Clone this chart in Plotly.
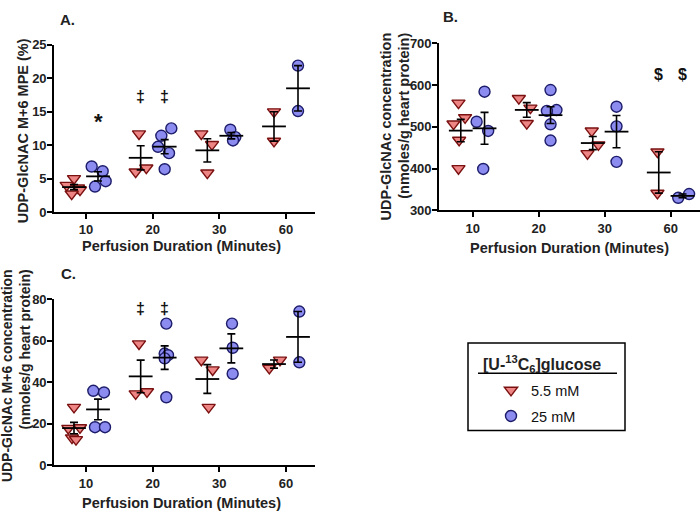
import numpy as np
import plotly.graph_objects as go

# ---------------- data ----------------
times = ["10", "20", "30", "60"]
series_names = ["5.5 mM", "25 mM"]

# Panel A: UDP-GlcNAc M+6 MPE (%)
A_low = [[5.0, 4.0, 3.6, 3.3, 2.7], [11.7, 6.0, 6.6], [11.7, 10.1, 5.85], [15.0, 10.6]]
A_high = [[6.8, 6.1, 4.6, 3.8], [12.5, 11.4, 9.75, 8.8, 6.4], [12.3, 11.2, 10.7], [21.9, 15.1]]
# Panel B: UDP-GlcNAc concentration
B_low = [[557, 522, 507, 468, 400], [568, 545, 508], [490, 457, 436], [440, 341]]
B_high = [[584, 512, 490, 399], [588, 540, 538, 506, 467], [548, 501, 416], [330, 339]]
# Panel C: UDP-GlcNAc M+6 concentration
C_low = [[28, 18.2, 17.9, 13.3, 12.5], [58.5, 35.5, 34.5], [50.7, 46, 28], [46.8, 50.7]]
C_high = [[35.9, 35.1, 18.4, 18.4], [68.2, 53.8, 53, 51.5, 32.8], [68.2, 56.6, 44.1], [74, 49.6]]

# horizontal scatter (jitter) of the dots within each group, in category units
A_low_jit = [[0.0, -0.11, 0.06, 0.09, -0.035], [-0.025, -0.075, 0.085], [-0.09, 0.07, 0.0], [0.0, 0.0]]
A_high_jit = [[-0.095, 0.07, 0.115, -0.045], [0.1, -0.05, -0.1, 0.065, 0.0], [-0.015, 0.06, 0.025], [0.0, 0.0]]
B_low_jit = [[-0.035, 0.065, -0.11, -0.025, -0.035], [-0.12, 0.055, 0.0], [-0.015, 0.085, -0.08], [-0.02, -0.02]]
B_high_jit = [[0.0, -0.12, 0.055, -0.02], [0.0, 0.09, -0.055, 0.0, 0.0], [0.0, 0.0, 0.0], [-0.065, 0.1]]
C_low_jit = [[0.0, 0.09, -0.085, -0.03, 0.03], [-0.025, 0.095, -0.075], [-0.09, 0.08, 0.02], [-0.07, 0.09]]
C_high_jit = [[-0.07, 0.09, -0.045, 0.105], [0.025, 0.0, 0.05, 0.0, 0.025], [0.01, 0.02, 0.02], [0.02, 0.02]]

# significance marks: (panel, time index, group, symbol, y)
sig_marks = [
    ("A", 0, 1, "*", 13.6),
    ("A", 1, 0, "‡", 17.3),
    ("A", 1, 1, "‡", 17.3),
    ("B", 3, 0, "$", 624),
    ("B", 3, 1, "$", 624),
    ("C", 1, 0, "‡", 75.6),
    ("C", 1, 1, "‡", 75.6),
]

# ---------------- styling ----------------
W, H = 700, 523
FONT = "Liberation Sans, Arial, sans-serif"
GOFF = 0.18  # group offset from category center
low_style = dict(symbol="triangle-down", size=11.5, color="#EE8585",
                 line=dict(color="#7A1010", width=1.4))
high_style = dict(symbol="circle", size=11, color="#8C8CF0",
                  line=dict(color="#1C1C6A", width=1.4))


def px(x):
    return x / W


def py(y):
    return 1 - y / H


fig = go.Figure()

panels = {
    "A": ("x", "y", A_low, A_high, A_low_jit, A_high_jit, True),
    "B": ("x2", "y2", B_low, B_high, B_low_jit, B_high_jit, False),
    "C": ("x3", "y3", C_low, C_high, C_low_jit, C_high_jit, False),
}

for key, (xa, ya, low, high, jl, jh, leg) in panels.items():
    for g, (vals, jit, style, off) in enumerate(
            [(low, jl, low_style, -GOFF), (high, jh, high_style, GOFF)]):
        xs, ys = [], []
        for i, (v, j) in enumerate(zip(vals, jit)):
            xs += [i + off + jj for jj in j]
            ys += list(v)
        fig.add_trace(go.Scatter(
            x=xs, y=ys, mode="markers", xaxis=xa, yaxis=ya,
            marker=style, name=series_names[g], showlegend=leg,
            legendgroup=series_names[g], cliponaxis=False))
    # mean +/- SEM
    for g, (vals, off) in enumerate([(low, -GOFF), (high, GOFF)]):
        mx, my, se = [], [], []
        for i, v in enumerate(vals):
            a = np.array(v, dtype=float)
            mx.append(i + off)
            my.append(a.mean())
            se.append(a.std(ddof=1) / np.sqrt(len(a)))
        fig.add_trace(go.Scatter(
            x=mx, y=my, mode="markers", xaxis=xa, yaxis=ya, showlegend=False,
            marker=dict(symbol="line-ew", size=17, color="black",
                        line=dict(color="black", width=1.8)),
            error_y=dict(type="data", array=se, color="black",
                         thickness=1.6, width=4),
            cliponaxis=False, hoverinfo="skip"))

axis_common = dict(showline=True, linecolor="black", linewidth=1.6,
                   ticks="outside", ticklen=5, tickwidth=1.5, tickcolor="black",
                   showgrid=False, zeroline=False,
                   tickfont=dict(family=FONT, size=13, color="#222", weight="bold"))

xa_common = dict(axis_common, tickmode="array", tickvals=[0, 1, 2, 3], ticktext=times)
ya_common = dict(axis_common, ticklabelstandoff=-2)

fig.update_layout(
    width=W, height=H, margin=dict(l=0, r=0, t=0, b=0),
    paper_bgcolor="white", plot_bgcolor="white",
    font=dict(family=FONT, color="#222"),
    xaxis=dict(xa_common, domain=[px(54), px(315)], range=[-0.48, 3.435], anchor="y"),
    yaxis=dict(ya_common, domain=[py(211), py(39)], range=[0, 25], dtick=5, anchor="x"),
    xaxis2=dict(xa_common, domain=[px(439), 1.0], range=[-0.51, 3.445], anchor="y2"),
    yaxis2=dict(ya_common, domain=[py(209.3), py(37.3)], range=[300, 700], dtick=100, anchor="x2"),
    xaxis3=dict(xa_common, domain=[px(54), px(315)], range=[-0.48, 3.435], anchor="y3"),
    yaxis3=dict(ya_common, domain=[py(472), py(300.7)], range=[0, 80], dtick=20, anchor="x3"),
    legend=dict(x=px(491), y=py(378), xanchor="left", yanchor="top",
                bgcolor="rgba(0,0,0,0)", borderwidth=0,
                font=dict(family=FONT, size=14.5, color="#111"),
                traceorder="grouped", tracegroupgap=4, itemwidth=30),
)

annotations = []
bold = dict(family=FONT, size=14.5, color="#222", weight="bold")
# panel letters
for txt, x, y in [("A.", 67, 13), ("B.", 450, 10), ("C.", 68, 274)]:
    annotations.append(dict(text=txt, x=px(x), y=py(y), xref="paper", yref="paper",
                            showarrow=False, xanchor="center", yanchor="middle",
                            font=dict(family=FONT, size=15, color="#222", weight="bold")))
# x-axis titles
for x, y in [(181, 246), (569, 248), (181, 511)]:
    annotations.append(dict(text="Perfusion Duration (Minutes)", x=px(x), y=py(y),
                            xref="paper", yref="paper", showarrow=False,
                            xanchor="center", yanchor="middle", font=bold))
# y-axis titles
annotations.append(dict(text="UDP-GlcNAC M+6 MPE (%)", x=px(23), y=py(128),
                        xref="paper", yref="paper", showarrow=False, textangle=-90,
                        xanchor="center", yanchor="middle", font=bold))
annotations.append(dict(text="UDP-GlcNAc concentration<br>(nmoles/g heart protein)",
                        x=px(395), y=py(123), xref="paper", yref="paper", showarrow=False,
                        textangle=-90, xanchor="center", yanchor="middle", align="right",
                        font=bold))
annotations.append(dict(text="UDP-GlcNAc M+6 concentration<br>(nmoles/g heart protein)",
                        x=px(16), y=py(380), xref="paper", yref="paper", showarrow=False,
                        textangle=-90, xanchor="center", yanchor="middle", align="right",
                        font=dict(bold, size=14)))
# significance marks
axmap = {"A": ("x", "y"), "B": ("x2", "y2"), "C": ("x3", "y3")}
for pnl, ti, g, sym, yv in sig_marks:
    xr, yr = axmap[pnl]
    annotations.append(dict(text=sym, x=ti + (GOFF if g else -GOFF), y=yv, xref=xr, yref=yr,
                            showarrow=False, xanchor="center", yanchor="middle",
                            font=dict(family=FONT, size=22 if sym == "*" else 16,
                                      color="#111", weight="bold")))
# legend title
annotations.append(dict(text="[U-<sup>13</sup>C<sub>6</sub>]glucose", x=px(542), y=py(368),
                        xref="paper", yref="paper", showarrow=False,
                        xanchor="center", yanchor="middle",
                        font=dict(bold, size=16)))
fig.update_layout(annotations=annotations)

fig.update_layout(shapes=[
    dict(type="rect", xref="paper", yref="paper", x0=px(468), x1=px(625),
         y0=py(436), y1=py(346), line=dict(color="black", width=1.5)),
    dict(type="line", xref="paper", yref="paper", x0=px(478), x1=px(617),
         y0=py(377), y1=py(377), line=dict(color="black", width=1.5)),
])

fig.write_html("out.html", config={"displayModeBar": False},
               post_script="document.body.style.margin='0';document.body.style.overflow='hidden';")
